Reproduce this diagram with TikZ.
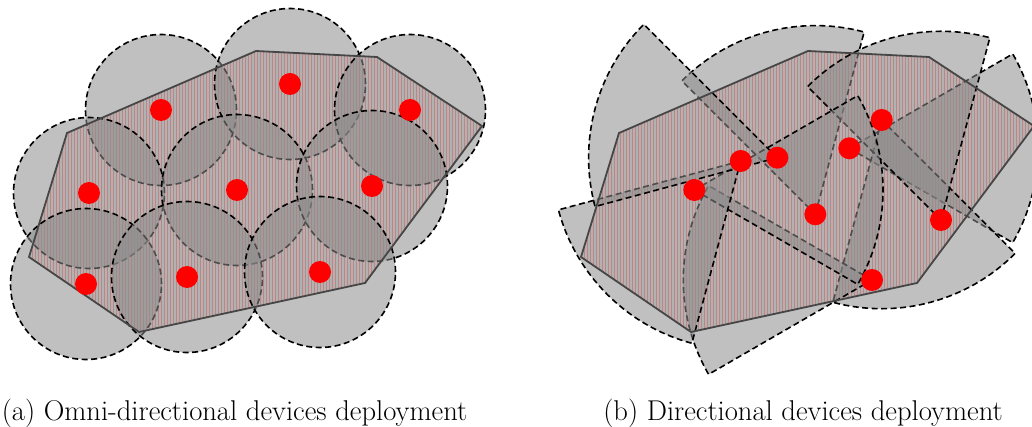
\documentclass[tikz,border=0pt]{standalone}
\usepackage{fontspec}
\definecolor{shade}{RGB}{140,140,140}
\definecolor{edge}{RGB}{70,70,70}
\definecolor{stripe}{RGB}{255,125,125}
\definecolor{fieldbg}{RGB}{226,226,226}
\tikzset{
  cover/.style={fill=shade, fill opacity=0.55, draw=black, line width=1.6pt,
    dash pattern=on 6pt off 3.5pt},
  fieldedge/.style={draw=edge, line width=1.8pt, line join=miter},
  device/.style={circle, fill=red, minimum size=22pt, inner sep=0pt},
  caption/.style={font=\fontsize{28.6}{34}\selectfont, anchor=base, inner sep=0pt},
}
% outline of the monitored field (pixel-like units, y downwards negated)
\newcommand\fieldoutline{(256,-51) -- (377,-57) -- (482,-126) -- (365,-283) -- (139,-332) -- (29,-257) -- (67,-133) -- cycle}
% striped interior of the field
\newcommand\fieldbase{%
  \fill[fieldbg] \fieldoutline;
  \begin{scope}
    \clip \fieldoutline;
    \foreach \x in {20,23,...,490} \draw[stripe, line width=1pt] (\x,-40) -- (\x,-345);
  \end{scope}}
\newcommand\sector[3]{% centre, start angle, end angle
  \path[cover] (#1) -- ++(#2:188.7pt) arc[start angle=#2, end angle=#3, radius=188.7pt] -- cycle;}
\begin{document}
\begin{tikzpicture}[x=1pt, y=1pt]
\useasboundingbox (0,0) rectangle (1032,-427);
\clip (0,0) rectangle (1032,-427);

% ---------- (a) omni-directional devices ----------
\fieldbase
\coordinate (o1) at (161,-110);
\coordinate (o2) at (290,-84);
\coordinate (o3) at (410,-110);
\coordinate (o4) at (89,-193);
\coordinate (o5) at (237,-190);
\coordinate (o6) at (372,-186);
\coordinate (o7) at (86,-284);
\coordinate (o8) at (187,-277);
\coordinate (o9) at (320,-272);
\foreach \c in {o1,o2,o3,o4,o5,o6,o7,o8,o9}
  \path[cover] (\c) circle[radius=75.5pt];
\draw[fieldedge] \fieldoutline;
\foreach \c in {o1,o2,o3,o4,o5,o6,o7,o8,o9}
  \node[device] (dev-\c) at (\c) {};

% ---------- (b) directional devices ----------
\begin{scope}[shift={(552,0)}]
  \fieldbase
\end{scope}
\coordinate (dA) at (740.7,-161);
\coordinate (dB) at (777.3,-157.7);
\coordinate (dC) at (694.3,-190);
\coordinate (dD) at (815.3,-214.3);
\coordinate (dE) at (849.3,-148.3);
\coordinate (dF) at (881.7,-120);
\coordinate (dG) at (941,-220);
\coordinate (dH) at (872,-280);
\sector{dE}{-30}{30}
\sector{dF}{-105}{-45}
\sector{dH}{150}{210}
\sector{dD}{75}{135}
\sector{dG}{75}{135}
\sector{dC}{-30}{30}
\sector{dA}{195}{255}
\sector{dB}{135}{195}
\begin{scope}[shift={(552,0)}]
  \draw[fieldedge] \fieldoutline;
\end{scope}
\foreach \c in {dA,dB,dC,dD,dE,dF,dG,dH}
  \node[device] (dev-\c) at (\c) {};

% ---------- captions ----------
\node[caption] (capa) at (234.5,-420) {(a) Omni-directional devices deployment};
\node[caption] (capb) at (803,-420) {(b) Directional devices deployment};
\end{tikzpicture}
\end{document}
